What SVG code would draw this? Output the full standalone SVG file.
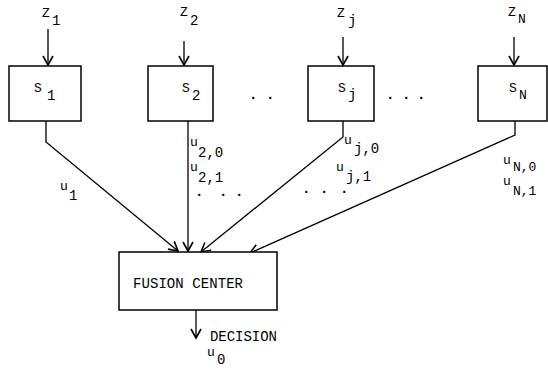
<svg xmlns="http://www.w3.org/2000/svg" width="548" height="369" viewBox="0 0 548 369">
<defs>
<marker id="ah" markerUnits="userSpaceOnUse" markerWidth="20" markerHeight="20" refX="0" refY="0" viewBox="-10 -10 20 20" orient="auto" overflow="visible">
<path d="M-9,-5 L0,0 L-9,5" fill="none" stroke="#000" stroke-width="1.6"/>
</marker>
<style>
.box{fill:#fff;stroke:#000;stroke-width:1.5}
.ln{fill:none;stroke:#000;stroke-width:1.3}
.t{font-family:"Liberation Mono",monospace;font-size:13px;fill:#000}
.s{font-family:"Liberation Mono",monospace;font-size:14px;fill:#000}
.m{font-family:"Liberation Mono",monospace;font-size:14px;fill:#000}
.d{font-family:"Liberation Mono",monospace;font-size:14px;fill:#000;font-weight:bold}
</style>
</defs>
<rect width="548" height="369" fill="#fff"/>
<g id="connectors">
<line class="ln" x1="48" y1="29" x2="48" y2="65" marker-end="url(#ah)"/>
<line class="ln" x1="184" y1="41" x2="184" y2="65" marker-end="url(#ah)"/>
<line class="ln" x1="343" y1="37" x2="343" y2="65" marker-end="url(#ah)"/>
<line class="ln" x1="514" y1="37" x2="514" y2="65" marker-end="url(#ah)"/>
<polyline class="ln" points="46,121 46,142 178,251" marker-end="url(#ah)"/>
<line class="ln" x1="188" y1="121" x2="188" y2="251" marker-end="url(#ah)"/>
<polyline class="ln" points="343,121 343,137 201,252" marker-end="url(#ah)"/>
<polyline class="ln" points="515,121 515,135 250,253" marker-end="url(#ah)"/>
<line class="ln" x1="196" y1="310" x2="196" y2="338" marker-end="url(#ah)"/>
</g>
<g id="label-z1"><text class="t" x="42" y="17">Z</text><text class="s" x="52" y="25">1</text></g>
<g id="label-z2"><text class="t" x="180" y="16">Z</text><text class="s" x="190" y="25">2</text></g>
<g id="label-zj"><text class="t" x="337" y="17">Z</text><text class="s" x="348" y="25">j</text></g>
<g id="label-zN"><text class="t" x="508" y="16">Z</text><text class="t" x="518" y="23">N</text></g>
<g id="S1"><rect class="box" x="9" y="66" width="72" height="55"/><text class="t" x="34" y="92">S</text><text class="s" x="47" y="100">1</text></g>
<g id="S2"><rect class="box" x="148" y="66" width="65" height="55"/><text class="t" x="182" y="92">S</text><text class="s" x="192" y="100">2</text></g>
<g id="Sj"><rect class="box" x="308" y="66" width="66" height="55"/><text class="t" x="338" y="92">S</text><text class="s" x="348" y="99">j</text></g>
<g id="SN"><rect class="box" x="478" y="66" width="69" height="55"/><text class="t" x="509" y="92">S</text><text class="t" x="519" y="99">N</text></g>
<g id="dots">
<text class="d" x="249" y="99">.</text><text class="d" x="266" y="99">.</text>
<text class="d" x="386" y="99">.</text><text class="d" x="402" y="99">.</text><text class="d" x="417" y="99">.</text>
<text class="d" x="195" y="196">.</text><text class="d" x="219" y="196">.</text><text class="d" x="235" y="196">.</text>
<text class="d" x="302" y="193">.</text><text class="d" x="320" y="193">.</text><text class="d" x="340" y="193">.</text>
</g>
<g id="label-u1"><text class="t" x="60" y="190">u</text><text class="s" x="69" y="200">1</text></g>
<g id="label-u2"><text class="t" x="190" y="146">u</text><text class="s" x="198" y="157">2,0</text><text class="t" x="190" y="171">u</text><text class="s" x="198" y="182">2,1</text></g>
<g id="label-uj"><text class="t" x="344" y="144">u</text><text class="s" x="354" y="153">j,0</text><text class="t" x="336" y="171">u</text><text class="s" x="346" y="181">j,1</text></g>
<g id="label-uN"><text class="t" x="503" y="164">u</text><text class="t" x="513" y="171">N,0</text><text class="t" x="503" y="185">u</text><text class="t" x="513" y="195">N,1</text></g>
<g id="fusion"><rect class="box" x="119" y="252" width="158" height="58"/><text class="m" x="133" y="288" textLength="110">FUSION CENTER</text></g>
<g id="decision"><text class="m" x="210" y="341" textLength="67">DECISION</text><text class="t" x="207" y="356">u</text><text class="s" x="217" y="364">0</text></g>
</svg>
